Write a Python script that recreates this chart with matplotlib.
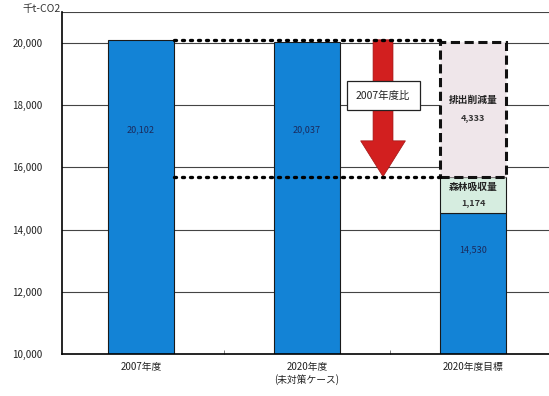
import matplotlib
matplotlib.use('Agg')
import matplotlib.pyplot as plt
from matplotlib.patches import FancyArrow

plt.rcParams['font.family'] = ['Noto Sans CJK JP', 'DejaVu Sans']

# データ (千t-CO2)
categories = ['2007年度', '2020年度\n(未対策ケース)', '2020年度目標']
emissions = [20102, 20037, 14530]
forest_sink = 1174
reduction = 4333
value_labels = ['20,102', '20,037', '14,530']
yticks = [10000, 12000, 14000, 16000, 18000, 20000]

blue = '#1383d6'
x = list(range(len(categories)))
w = 0.40

fig = plt.figure(figsize=(5.49, 3.96), dpi=100)
ax = fig.add_axes([0.113, 0.106, 0.887, 0.864])
ax.set_xlim(-0.476, 2.458)
ax.set_ylim(10000, 21000)

# グリッド
for v in yticks[1:] + [21000]:
    ax.axhline(v, color='#444444', lw=0.8, zorder=0)

ax.bar(x, emissions, width=w, color=blue, edgecolor='#1a1a1a', lw=0.8, zorder=2)

# 目標の積み上げ
target_top = emissions[2] + forest_sink
ax.bar(x[2], forest_sink, bottom=emissions[2], width=w, color='#d6ede0',
       edgecolor='#1a1a1a', lw=0.8, zorder=2)
ax.bar(x[2], reduction, bottom=target_top, width=w, color='#efe6ea',
       edgecolor='#111111', lw=2.2, linestyle=(0, (3, 1.5)), zorder=3)

# 値ラベル
for i, t in enumerate(value_labels):
    ypos = 17200 if i < 2 else 13350
    ax.text(x[i], ypos, t, ha='center', va='center', fontsize=6.5, color='#1b2a5c', zorder=4)
ax.text(x[2], target_top + reduction * 0.57, '排出削減量', ha='center', va='center',
        fontsize=7, fontweight='bold', color='#222222', zorder=4)
ax.text(x[2], target_top + reduction * 0.44, '4,333', ha='center', va='center',
        fontsize=6.5, fontweight='bold', color='#333333', zorder=4)
ax.text(x[2], target_top - forest_sink * 0.27, '森林吸収量', ha='center', va='center',
        fontsize=7, fontweight='bold', color='#222222', zorder=4)
ax.text(x[2], target_top - forest_sink * 0.72, '1,174', ha='center', va='center',
        fontsize=6.5, fontweight='bold', color='#333333', zorder=4)

# 点線
ax.plot([x[0] + w / 2, x[2] - w / 2], [emissions[0], emissions[0]], color='black',
        lw=2.4, linestyle=(0, (0.6, 1.8)), dash_capstyle='round', zorder=5)
ax.plot([x[0] + w / 2, x[2] - w / 2], [target_top, target_top], color='black',
        lw=2.4, linestyle=(0, (0.6, 1.8)), dash_capstyle='round', zorder=5)

# 矢印
ax_x = 1.458
arrow = FancyArrow(ax_x, emissions[0], 0, target_top - emissions[0], width=0.12,
                   head_width=0.27, head_length=1150, length_includes_head=True,
                   color='#d21f1f', ec='#a01515', lw=0.5, zorder=4)
ax.add_patch(arrow)
ax.text(ax_x, 18300, '2007年度比', ha='center', va='center', fontsize=7.5, color='#222222',
        bbox=dict(boxstyle='square,pad=0.9', fc='white', ec='#222222', lw=0.9), zorder=6)

ax.set_xticks(x)
ax.set_xticklabels(categories, fontsize=7, color='#222222')
ax.set_xticks([0.5, 1.5], minor=True)
ax.tick_params(axis='x', which='major', length=0, pad=6)
ax.tick_params(axis='x', which='minor', direction='in', length=3, color='#666666')
ax.set_yticks(yticks)
ax.set_yticklabels([f'{v:,}' for v in yticks], fontsize=7, color='#222222')
ax.tick_params(axis='y', length=0, pad=14)

for s in ['top', 'right']:
    ax.spines[s].set_visible(False)
ax.spines['left'].set_linewidth(1.2)
ax.spines['bottom'].set_linewidth(1.2)

fig.text(0.075, 0.978, '千t-CO2', ha='center', va='center', fontsize=7.5, color='#333333')

fig.savefig('out.png', dpi=100, facecolor='white')
